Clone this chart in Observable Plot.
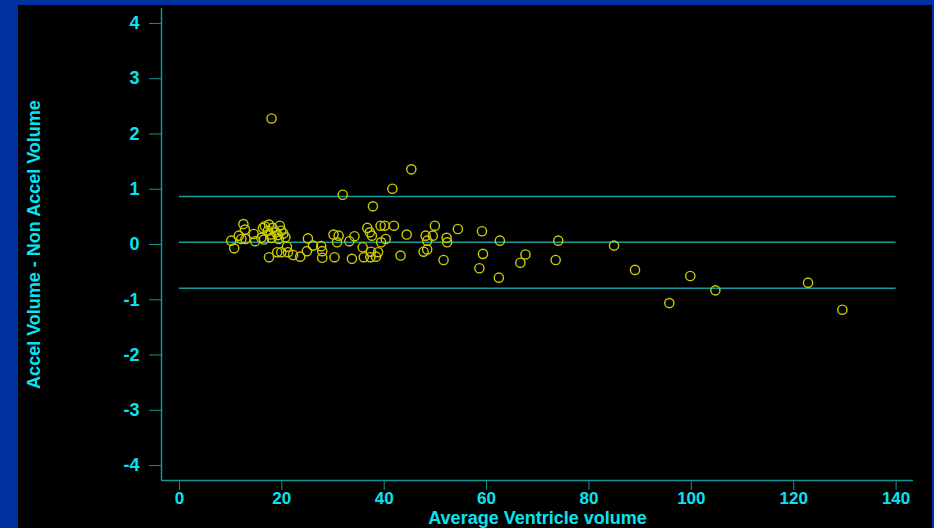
<!DOCTYPE html>
<html>
<head>
<meta charset="utf-8">
<script src="https://cdn.jsdelivr.net/npm/d3@7"></script>
<script src="https://cdn.jsdelivr.net/npm/@observablehq/plot@0.6"></script>
<style>
  html, body { margin: 0; padding: 0; }
  body { width: 934px; height: 528px; background: #0033a0; overflow: hidden; position: relative; }
  #chart { position: absolute; left: 18px; top: 5px; width: 914px; height: 523px; background: #000; }
  #chart svg text { font-family: 'Liberation Sans', Arial, sans-serif !important; font-weight: bold !important; font-size: 18px !important; }
  #chart svg g[aria-label="x-axis tick label"] text { font-size: 17px !important; }
</style>
</head>
<body>
<div id="chart"></div>
<script>
// Average of the two measurements (x)
const avgVolume = [
  31.9, 12.5, 10.1, 10.7, 11.6, 12.1, 12.8, 12.9, 14.5, 14.8,
  16.0, 16.7, 16.5, 17.5, 17.3, 17.8, 19.6, 19.9, 19.4, 20.7,
  17.5, 19.1, 19.9, 21.0, 21.2, 22.2, 23.6, 25.1, 24.9, 26.1,
  27.7, 27.9, 27.9, 30.3, 30.1, 31.1, 30.8, 33.2, 33.7, 45.3,
  41.6, 37.8, 36.7, 37.2, 37.6, 39.3, 40.1, 41.9, 34.2, 35.8,
  36.0, 37.3, 37.4, 38.8, 38.4, 39.4, 40.3, 44.4, 43.2, 49.9,
  48.1, 49.5, 48.4, 48.4, 47.7, 52.2, 52.3, 51.6, 54.4, 59.1,
  62.6, 59.3, 58.6, 62.4, 67.6, 66.6, 74.0, 84.9, 73.5, 89.0,
  99.8, 95.7, 104.7, 122.8, 129.5, 18.0, 18.2, 18.8, 19.2, 18.0,
  20.3, 16.3
];
// Difference Accel - Non Accel (y)
const diffVolume = [
  0.90, 0.37, 0.07, -0.07, 0.16, 0.10, 0.27, 0.10, 0.19, 0.06,
  0.12, 0.33, 0.09, 0.36, 0.25, 0.18, 0.34, 0.25, 0.10, 0.13,
  -0.23, -0.14, -0.14, -0.04, -0.14, -0.19, -0.22, 0.11, -0.12, -0.02,
  -0.03, -0.12, -0.24, -0.23, 0.18, 0.16, 0.04, 0.06, -0.26, 1.36,
  1.01, 0.69, 0.30, 0.22, 0.16, 0.34, 0.34, 0.34, 0.15, -0.05,
  -0.23, -0.23, -0.13, -0.14, -0.22, 0.04, 0.10, 0.18, -0.20, 0.34,
  0.16, 0.16, 0.07, -0.09, -0.13, 0.12, 0.04, -0.28, 0.28, 0.24,
  0.07, -0.17, -0.43, -0.60, -0.18, -0.33, 0.07, -0.02, -0.28, -0.46,
  -0.57, -1.06, -0.83, -0.69, -1.18, 2.28, 0.30, 0.22, 0.17, 0.12,
  0.20, 0.30
];
// Bias and limits of agreement
const refLines = [0.87, 0.04, -0.79];
const refSpan = [0, 140];
const xTicks = [0, 20, 40, 60, 80, 100, 120, 140];
const yTicks = [-4, -3, -2, -1, 0, 1, 2, 3, 4];
const xDomain = [-3.5, 143.4];
const yDomain = [-4.27, 4.27];
const xLabel = "Average Ventricle volume";
const yLabel = "Accel Volume - Non Accel Volume";

const points = avgVolume.map((x, i) => ({x, y: diffVolume[i]}));
const refRows = refLines.map(y => ({x1: refSpan[0], x2: refSpan[1], y}));

const axisColor = "#129292";
const textColor = "#08e4ee";
const pointColor = "#cccc00";
const fmt = d => String(d);

const chart = Plot.plot({
  width: 914,
  height: 523,
  marginLeft: 143,
  marginRight: 19,
  marginTop: 3,
  marginBottom: 48,
  style: {
    background: "black",
    color: textColor,
    fontFamily: "'Liberation Sans', Arial, sans-serif",
    fontSize: "18px",
    fontWeight: "bold",
    overflow: "visible"
  },
  x: {domain: xDomain},
  y: {domain: yDomain},
  marks: [
    Plot.ruleY(refRows, {x1: "x1", x2: "x2", y: "y", stroke: "#169c9c", strokeWidth: 1.5}),
    Plot.dot(points, {x: "x", y: "y", r: 4.6, stroke: pointColor, strokeWidth: 1.4, fill: "none"}),
    Plot.ruleX([xDomain[0]], {stroke: axisColor, strokeWidth: 1.5}),
    Plot.ruleY([yDomain[0]], {stroke: axisColor, strokeWidth: 1.5}),
    Plot.axisX({ticks: xTicks, tickFormat: fmt, tickSize: 10, tickPadding: 1, stroke: axisColor, fill: textColor, label: null}),
    Plot.axisY({ticks: yTicks, tickFormat: fmt, tickSize: 12, tickPadding: 10, stroke: axisColor, fill: textColor, label: null}),
    Plot.text([xLabel], {frameAnchor: "bottom", lineAnchor: "middle", dy: 38, textAnchor: "middle", fill: textColor}),
    Plot.text([yLabel], {frameAnchor: "left", lineAnchor: "middle", dx: -127, rotate: -90, textAnchor: "middle", fill: textColor})
  ]
});
document.getElementById("chart").appendChild(chart);
</script>
</body>
</html>
